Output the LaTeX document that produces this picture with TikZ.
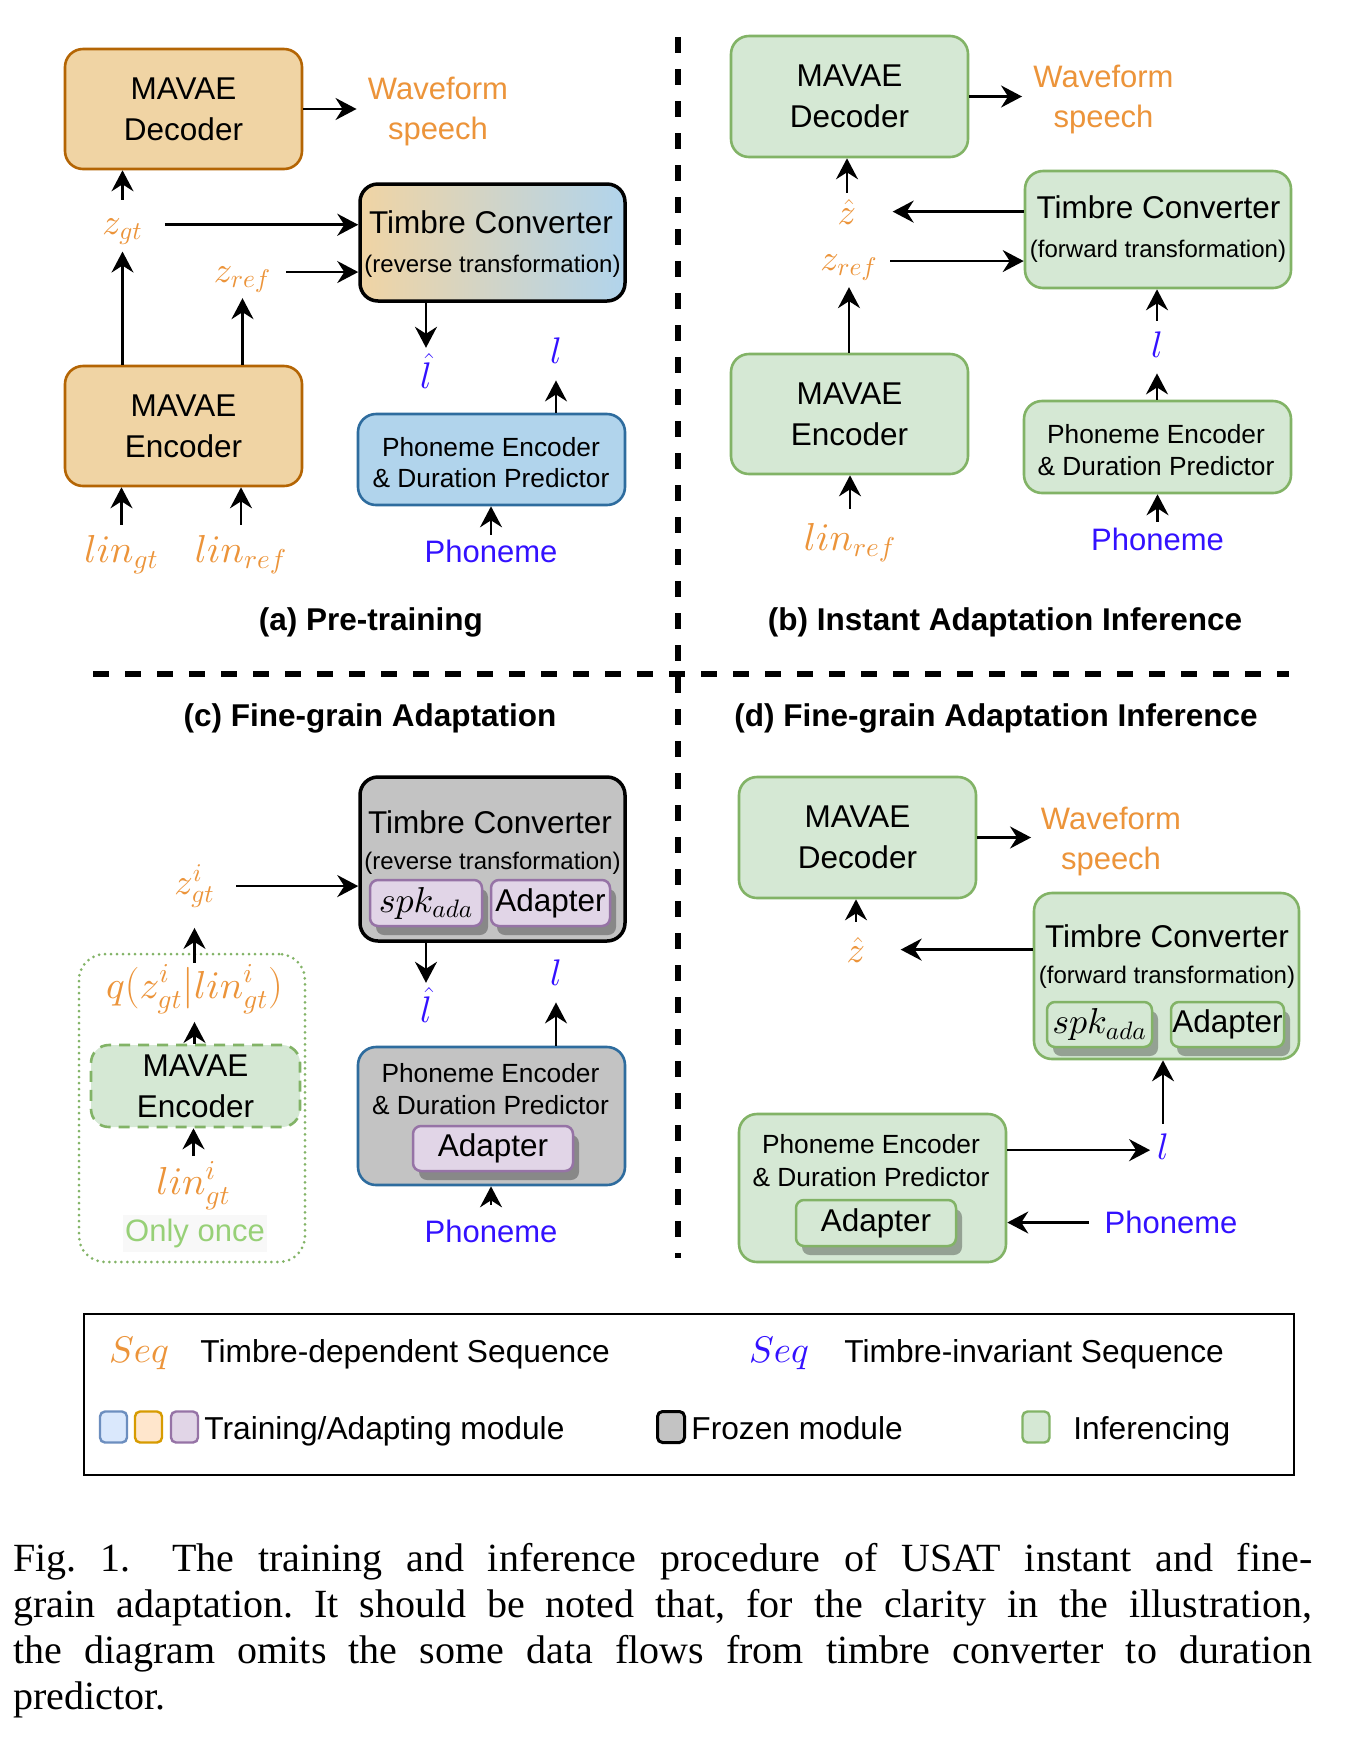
\documentclass[tikz,border=0pt]{standalone}
\usepackage{fontspec}
\setmainfont{Liberation Serif}
\setsansfont{Liberation Sans}
\usetikzlibrary{arrows.meta,shadows}
\DeclareFontShape{OML}{cmm}{m}{it}{<-6>cmmi5<6-8>cmmi7<8->cmmi10}{}
\definecolor{tdep}{RGB}{236,148,58}
\definecolor{tinv}{RGB}{51,17,255}
\definecolor{orfill}{RGB}{240,212,164}
\definecolor{ordraw}{RGB}{180,101,4}
\definecolor{blfill}{RGB}{177,212,236}
\definecolor{bldraw}{RGB}{46,108,158}
\definecolor{grfill}{RGB}{213,232,212}
\definecolor{grdraw}{RGB}{130,179,102}
\definecolor{pufill}{RGB}{225,213,231}
\definecolor{pudraw}{RGB}{150,115,166}
\definecolor{frfill}{RGB}{195,195,195}
\definecolor{oncecol}{RGB}{151,208,119}
\definecolor{oncebg}{RGB}{248,248,248}
\definecolor{lgblue}{RGB}{218,232,252}
\definecolor{lgbluedraw}{RGB}{108,142,191}
\definecolor{lgor}{RGB}{255,230,204}
\definecolor{lgordraw}{RGB}{215,155,0}
\begin{document}
\begin{tikzpicture}[x=0.5pt,y=-0.5pt,
  sz/.style 2 args={minimum width=#1*0.5pt, minimum height=#2*0.5pt},
  box/.style={draw, rounded corners=9pt, line width=1.3pt, inner sep=0pt, align=center,
    font=\sffamily\fontsize{15.75}{20.5}\selectfont},
  orbox/.style={box, fill=orfill, draw=ordraw},
  grbox/.style={box, fill=grfill, draw=grdraw},
  frbox/.style={box, fill=frfill},
  tcmain/.style={inner sep=0pt, font=\sffamily\fontsize{15.75}{18}\selectfont},
  tcsub/.style={inner sep=0pt, font=\sffamily\fontsize{12}{14}\selectfont},
  petext/.style={inner sep=0pt, font=\sffamily\fontsize{13.15}{15.5}\selectfont},
  subbox/.style={rounded corners=4pt, line width=1.25pt, inner sep=0pt,
    font=\sffamily\fontsize{15.75}{18}\selectfont,
    drop shadow={shadow xshift=3pt, shadow yshift=-4.5pt, opacity=0.3, fill=black}},
  subp/.style={subbox, draw=pudraw, fill=pufill},
  subg/.style={subbox, draw=grdraw, fill=grfill},
  zlab/.style={inner sep=0pt, anchor=base, text=tdep, font=\fontsize{18.2}{21}\selectfont},
  linlab/.style={inner sep=0pt, anchor=base, text=tdep, font=\fontsize{19.5}{22}\selectfont},
  llab/.style={inner sep=0pt, anchor=base, text=tinv, font=\fontsize{18.5}{21}\selectfont},
  wflab/.style={inner sep=0pt, align=center, text=tdep, font=\sffamily\fontsize{15.5}{20}\selectfont},
  phlab/.style={inner sep=0pt, text=tinv, font=\sffamily\fontsize{15.5}{18}\selectfont},
  captitle/.style={inner sep=0pt, font=\sffamily\bfseries\fontsize{15.75}{19}\selectfont},
  lgtext/.style={inner sep=0pt, anchor=base west, font=\sffamily\fontsize{15.85}{19}\selectfont},
  sq/.style={rounded corners=2.5pt, line width=1.2pt, inner sep=0pt, sz={27}{31}},
  arr/.style={-{Stealth[length=10.5pt,width=11pt,inset=3.5pt]}, line width=1.3pt},
  sepline/.style={line width=2.75pt, dash pattern=on 8pt off 8pt},
  capline/.style={inner sep=0pt, anchor=base west, font=\rmfamily\fontsize{20}{23}\selectfont}
]
\fill[white] (0,0) rectangle (1362,1752);
\useasboundingbox (0,0) rectangle (1362,1752);

% separators
\draw[sepline] (678,37) -- (678,1258);
\draw[sepline] (93,674) -- (1289,674);

% ================= (a) =================
\node[orbox, sz={237}{120}] (decA) at (183.5,109) {MAVAE\\Decoder};
\node[orbox, sz={237}{120}] (encA) at (183.5,426) {MAVAE\\Encoder};
\node[box, draw=black, line width=1.75pt, left color=orfill, right color=blfill, sz={265}{117}] (tcA) at (492.5,242.5) {};
\node[tcmain] (tcAt1) at (491,222) {Timbre Converter};
\node[tcsub] (tcAt2) at (492.5,266) {(reverse transformation)};
\node[box, fill=blfill, draw=bldraw, sz={267}{91}] (peA) at (491.5,459.5) {};
\node[petext] (peAt1) at (491,447) {Phoneme Encoder};
\node[petext] (peAt2) at (491,478.5) {\& Duration Predictor};
\node[wflab] (wfA) at (438,111) {Waveform\\speech};
\node[zlab] (zgtA) at (122.5,234) {$z_{gt}$};
\node[zlab] (zrefA) at (242.5,282) {$z_{ref}$};
\node[linlab] (lingtA) at (121.5,562) {$lin_{gt}$};
\node[linlab] (linrefA) at (241,562) {$lin_{ref}$};
\node[llab] (hatlA) at (426,388) {$\hat{l}$};
\node[llab] (lA) at (556,363) {$l$};
\node[phlab] (phA) at (491,551.5) {Phoneme};
\node[captitle] (capA) at (371,622) {(a) Pre-training};

\draw[arr, shorten >=5.5pt] (decA.east) -- (decA.east -| wfA.west);
\draw[arr, shorten <=9pt] (zgtA.north) -- (zgtA.north |- decA.south);
\draw[arr, shorten >=3.5pt] (encA.north -| zgtA) -- (zgtA.south);
\draw[arr, shorten <=11pt] ([yshift=3.25pt]zgtA.east) -- ([yshift=3.25pt]zgtA.east -| tcA.west);
\draw[arr, shorten <=7.25pt] ([yshift=3.75pt]zrefA.east) -- ([yshift=3.75pt]zrefA.east -| tcA.west);
\draw[arr, shorten >=2.5pt] (encA.north -| zrefA) -- (zrefA.south);
\draw[arr, shorten <=5pt] (lingtA.north) -- (lingtA.north |- encA.south);
\draw[arr, shorten <=5pt] (linrefA.north) -- (linrefA.north |- encA.south);
\draw[arr, shorten >=2.5pt] (hatlA.north |- tcA.south) -- (hatlA.north);
\draw[arr, shorten >=8.5pt] (peA.north -| lA) -- (lA.south);
\draw[arr, shorten <=2.5pt] (phA.north) -- (phA.north |- peA.south);

% ================= (b) =================
\node[grbox, sz={237}{121}] (decB) at (849.5,96.5) {MAVAE\\Decoder};
\node[grbox, sz={237}{120}] (encB) at (849.5,414) {MAVAE\\Encoder};
\node[grbox, sz={266}{117}] (tcB) at (1158,229.5) {};
\node[tcmain] (tcBt1) at (1158.5,207) {Timbre Converter};
\node[tcsub] (tcBt2) at (1158,251) {(forward transformation)};
\node[grbox, sz={267}{92}] (peB) at (1157.5,447) {};
\node[petext] (peBt1) at (1156,434) {Phoneme Encoder};
\node[petext] (peBt2) at (1156,466) {\& Duration Predictor};
\node[wflab] (wfB) at (1103.5,99.5) {Waveform\\speech};
\node[zlab] (hatzB) at (847,224) {$\hat{z}$};
\node[zlab] (zrefB) at (849,270) {$z_{ref}$};
\node[linlab] (linrefB) at (850,550) {$lin_{ref}$};
\node[llab] (lB) at (1157,357) {$l$};
\node[phlab] (phB) at (1157.5,539.5) {Phoneme};
\node[captitle] (capB) at (1005,622) {(b) Instant Adaptation Inference};

\draw[arr, shorten >=5.5pt] (decB.east) -- (decB.east -| wfB.west);
\draw[arr, shorten <=3pt] (hatzB.north) -- (hatzB.north |- decB.south);
\draw[arr, shorten >=18pt] (tcB.west |- hatzB.east) -- (hatzB.east);
\draw[arr, shorten <=6pt] ([yshift=3.25pt]zrefB.east) -- ([yshift=3.25pt]zrefB.east -| tcB.west);
\draw[arr, shorten >=3pt] (encB.north -| zrefB) -- (zrefB.south);
\draw[arr, shorten <=7pt] (linrefB.north) -- (linrefB.north |- encB.south);
\draw[arr, shorten <=5pt] (lB.north) -- (lB.north |- tcB.south);
\draw[arr, shorten >=8pt] (peB.north -| lB) -- (lB.south);
\draw[arr, shorten <=3pt] (phB.north) -- (phB.north |- peB.south);

% ================= (c) =================
\node[captitle] (capC) at (370,718) {(c) Fine-grain Adaptation};
\node[frbox, draw=black, line width=1.75pt, sz={265}{164}] (tcC) at (492.5,859) {};
\node[tcmain] (tcCt1) at (490,822) {Timbre Converter};
\node[tcsub] (tcCt2) at (492.5,863) {(reverse transformation)};
\node[subp, sz={112}{46}, font=\fontsize{18}{20}\selectfont] (spkC) at (426,903) {$spk_{ada}$};
\node[subp, sz={119}{46}] (adC) at (550.5,903) {Adapter};
\node[draw=grdraw, rounded corners=13pt, line width=1.5pt, dash pattern=on 0pt off 3pt, line cap=round, sz={226}{308}] (onceBox) at (192,1108) {};
\node[box, fill=grfill, draw=grdraw, dash pattern=on 5.5pt off 4pt, sz={209}{82}] (encC) at (195.5,1086) {MAVAE\\Encoder};
\node[zlab] (zgtiC) at (194.5,894) {$z^{i}_{gt}$};
\node[zlab, font=\fontsize{19.5}{22}\selectfont] (qC) at (194.5,998) {$q(z^{i}_{gt}|lin^{i}_{gt})$};
\node[linlab] (linigtC) at (193.5,1194.5) {$lin^{i}_{gt}$};
\node[inner sep=0pt, fill=oncebg, text=oncecol, font=\sffamily\fontsize{15.5}{18}\selectfont, sz={144}{37}] (onceC) at (195,1233.5) {Only once};
\node[llab] (hatlC) at (426,1022) {$\hat{l}$};
\node[llab] (lC) at (556,985) {$l$};
\node[frbox, draw=bldraw, sz={267}{138}] (peC) at (491.5,1116) {};
\node[petext] (peCt1) at (490.5,1073) {Phoneme Encoder};
\node[petext] (peCt2) at (490.5,1105) {\& Duration Predictor};
\node[subp, sz={160}{45}] (adPC) at (493,1148.5) {Adapter};
\node[phlab] (phC) at (491,1231) {Phoneme};

\draw[arr, shorten <=10.5pt] (zgtiC.east) -- (zgtiC.east -| tcC.west);
\draw[arr, shorten <=1pt, shorten >=10pt] (qC.north) -- (qC.north |- zgtiC.south);
\draw[arr, shorten >=4pt] (encC.north -| qC) -- (qC.south);
\draw[arr, shorten <=2.5pt] (linigtC.north) -- (linigtC.north |- encC.south);
\draw[arr, shorten >=2pt] (hatlC.north |- tcC.south) -- (hatlC.north);
\draw[arr, shorten >=8.5pt] (peC.north -| lC) -- (lC.south);
\draw[arr, shorten <=7pt] (phC.north) -- (phC.north |- peC.south);

% ================= (d) =================
\node[captitle] (capD) at (996,718) {(d) Fine-grain Adaptation Inference};
\node[grbox, sz={237}{121}] (decD) at (857.5,837.5) {MAVAE\\Decoder};
\node[wflab] (wfD) at (1111,841) {Waveform\\speech};
\node[grbox, sz={265}{166}] (tcD) at (1166.5,976) {};
\node[tcmain] (tcDt1) at (1167,936) {Timbre Converter};
\node[tcsub] (tcDt2) at (1167,977) {(forward transformation)};
\node[subg, sz={105}{45}, font=\fontsize{18}{20}\selectfont] (spkD) at (1099.5,1024.5) {$spk_{ada}$};
\node[subg, sz={113}{45}] (adD) at (1227.5,1024.5) {Adapter};
\node[zlab] (hatzD) at (856,962) {$\hat{z}$};
\node[grbox, sz={267}{148}] (peD) at (872.5,1188) {};
\node[petext] (peDt1) at (871,1144) {Phoneme Encoder};
\node[petext] (peDt2) at (871,1177) {\& Duration Predictor};
\node[subg, sz={160}{46}] (adPD) at (876,1223) {Adapter};
\node[llab] (lD) at (1163,1159) {$l$};
\node[phlab] (phD) at (1171,1222.5) {Phoneme};

\draw[arr, shorten >=4.75pt] (decD.east) -- (decD.east -| wfD.west);
\draw[arr, shorten <=7.5pt] (hatzD.north) -- (hatzD.north |- decD.south);
\draw[arr, shorten >=17.5pt] (tcD.west |- hatzD.east) -- (hatzD.east);
\draw[arr, shorten <=4.5pt] (lD.north) -- (lD.north |- tcD.south);
\draw[arr, shorten >=3.3pt] ([yshift=-2pt]peD.east |- lD.west) -- ([yshift=-2pt]lD.west);
\draw[arr, shorten <=7.75pt] (phD.west) -- (phD.west -| peD.east);

% ================= legend =================
\node[draw, line width=1.3pt, inner sep=0pt, sz={1210}{161}] (leg) at (689,1394.5) {};
\node[zlab, font=\fontsize{18.5}{21}\selectfont] (seqA) at (139,1362) {$Seq$};
\node[lgtext] (lgA) at (200,1362) {Timbre-dependent Sequence};
\node[zlab, text=tinv, font=\fontsize{18.5}{21}\selectfont] (seqB) at (779,1362) {$Seq$};
\node[lgtext] (lgB) at (844,1362) {Timbre-invariant Sequence};
\node[sq, fill=lgblue, draw=lgbluedraw] (sqBl) at (113.5,1427) {};
\node[sq, fill=lgor, draw=lgordraw] (sqOr) at (148.5,1427) {};
\node[sq, fill=pufill, draw=pudraw] (sqPu) at (184.5,1427) {};
\node[lgtext] (lgC) at (204,1439) {Training/Adapting module};
\node[sq, fill=frfill, draw=black, line width=1.5pt] (sqFr) at (671,1427) {};
\node[lgtext] (lgD) at (691,1439) {Frozen module};
\node[sq, fill=grfill, draw=grdraw] (sqGr) at (1036,1427) {};
\node[lgtext] (lgE) at (1073,1439) {Inferencing};

% ================= caption =================
\node[capline] (cap1) at (13,1571) {\frenchspacing\makebox[649.5pt][s]{Fig.~1.\hspace{0.45em} The training and inference procedure of USAT instant and fine-}};
\node[capline] (cap2) at (13,1617) {\frenchspacing\makebox[649.5pt][s]{grain adaptation. It should be noted that, for the clarity in the illustration,}};
\node[capline] (cap3) at (13,1663) {\frenchspacing\makebox[649.5pt][s]{the diagram omits the some data flows from timbre converter to duration}};
\node[capline] (cap4) at (13,1709) {predictor.};
\end{tikzpicture}
\end{document}
